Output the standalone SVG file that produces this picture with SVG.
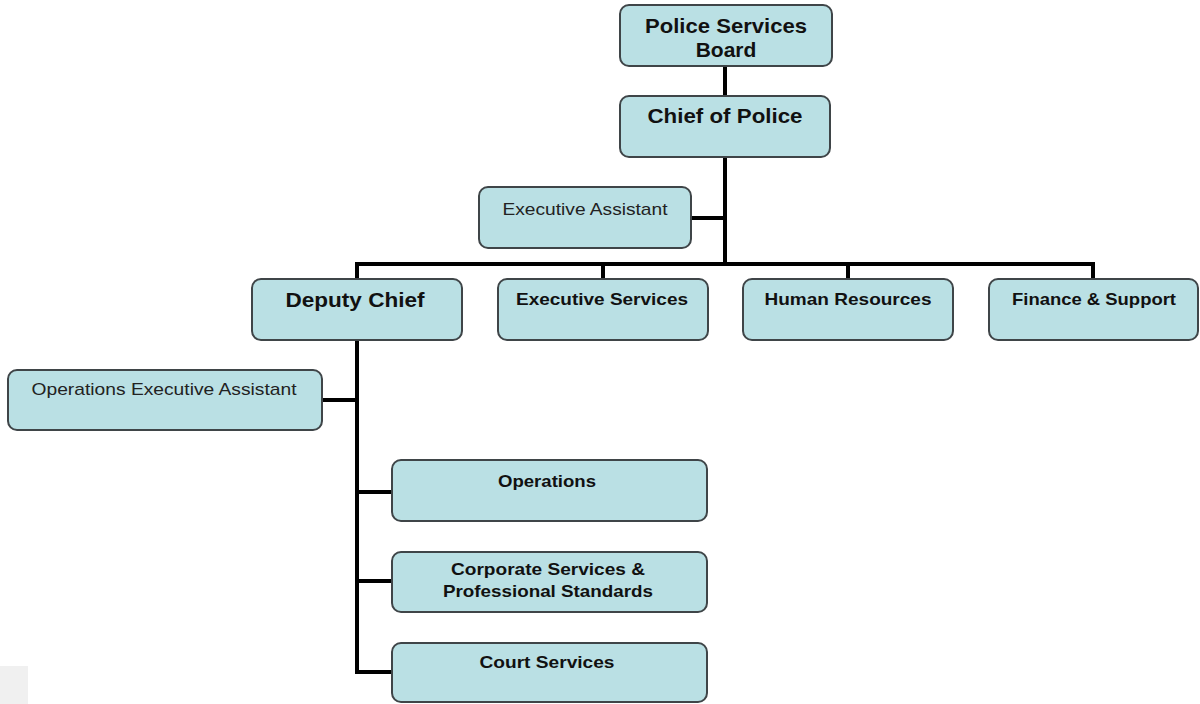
<svg xmlns="http://www.w3.org/2000/svg" width="1200" height="704" viewBox="0 0 1200 704">
<style>
.box{fill:#bae0e4;stroke:#3f4548;stroke-width:2}
.ln{stroke:#000;stroke-width:4;fill:none;stroke-linecap:square}
.t{font-family:"Liberation Sans",Arial,sans-serif;fill:#111;text-anchor:middle}
.b{font-weight:bold}
.big{font-size:21px}
.mid{font-size:16.5px}
.reg{font-size:17px;fill:#222}
</style>
<rect x="0" y="666" width="28" height="38" fill="#f0f0f0"/>
<g id="connectors">
<path class="ln" d="M725 66 V95"/>
<path class="ln" d="M725 157 V264"/>
<path class="ln" d="M692 218 H725"/>
<path class="ln" d="M357 264 H1093"/>
<path class="ln" d="M357 264 V278"/>
<path class="ln" d="M603 264 V278"/>
<path class="ln" d="M848 264 V278"/>
<path class="ln" d="M1093 264 V278"/>
<path class="ln" d="M357 340 V672"/>
<path class="ln" d="M323 400 H357"/>
<path class="ln" d="M357 492 H392"/>
<path class="ln" d="M357 581 H392"/>
<path class="ln" d="M357 672 H392"/>
</g>
<g id="board"><rect class="box" x="620" y="5" width="212" height="61" rx="9"/>
<text class="t b big" x="726" y="33" textLength="162" lengthAdjust="spacingAndGlyphs">Police Services</text><text class="t b big" x="726" y="57">Board</text></g>
<g id="chief"><rect class="box" x="620" y="96" width="210" height="61" rx="9"/>
<text class="t b big" x="725" y="123" textLength="155" lengthAdjust="spacingAndGlyphs">Chief of Police</text></g>
<g id="exec-assistant"><rect class="box" x="479" y="187" width="212" height="61" rx="9"/>
<text class="t reg" x="585" y="215" textLength="165" lengthAdjust="spacingAndGlyphs">Executive Assistant</text></g>
<g id="deputy"><rect class="box" x="252" y="279" width="210" height="61" rx="9"/>
<text class="t b big" x="355" y="307" textLength="139" lengthAdjust="spacingAndGlyphs">Deputy Chief</text></g>
<g id="exec-services"><rect class="box" x="498" y="279" width="210" height="61" rx="9"/>
<text class="t b mid" x="602" y="305" textLength="172" lengthAdjust="spacingAndGlyphs">Executive Services</text></g>
<g id="hr"><rect class="box" x="743" y="279" width="210" height="61" rx="9"/>
<text class="t b mid" x="848" y="305" textLength="167" lengthAdjust="spacingAndGlyphs">Human Resources</text></g>
<g id="finance"><rect class="box" x="989" y="279" width="209" height="61" rx="9"/>
<text class="t b mid" x="1094" y="305" textLength="164" lengthAdjust="spacingAndGlyphs">Finance &amp; Support</text></g>
<g id="ops-exec-assistant"><rect class="box" x="8" y="370" width="314" height="60" rx="9"/>
<text class="t reg" x="164" y="395" textLength="265" lengthAdjust="spacingAndGlyphs">Operations Executive Assistant</text></g>
<g id="operations"><rect class="box" x="392" y="460" width="315" height="61" rx="9"/>
<text class="t b mid" x="547" y="487" textLength="98" lengthAdjust="spacingAndGlyphs">Operations</text></g>
<g id="corporate"><rect class="box" x="392" y="552" width="315" height="60" rx="9"/>
<text class="t b mid" x="548" y="575" textLength="194" lengthAdjust="spacingAndGlyphs">Corporate Services &amp;</text><text class="t b mid" x="548" y="597" textLength="210" lengthAdjust="spacingAndGlyphs">Professional Standards</text></g>
<g id="court"><rect class="box" x="392" y="643" width="315" height="59" rx="9"/>
<text class="t b mid" x="547" y="668" textLength="135" lengthAdjust="spacingAndGlyphs">Court Services</text></g>
</svg>
